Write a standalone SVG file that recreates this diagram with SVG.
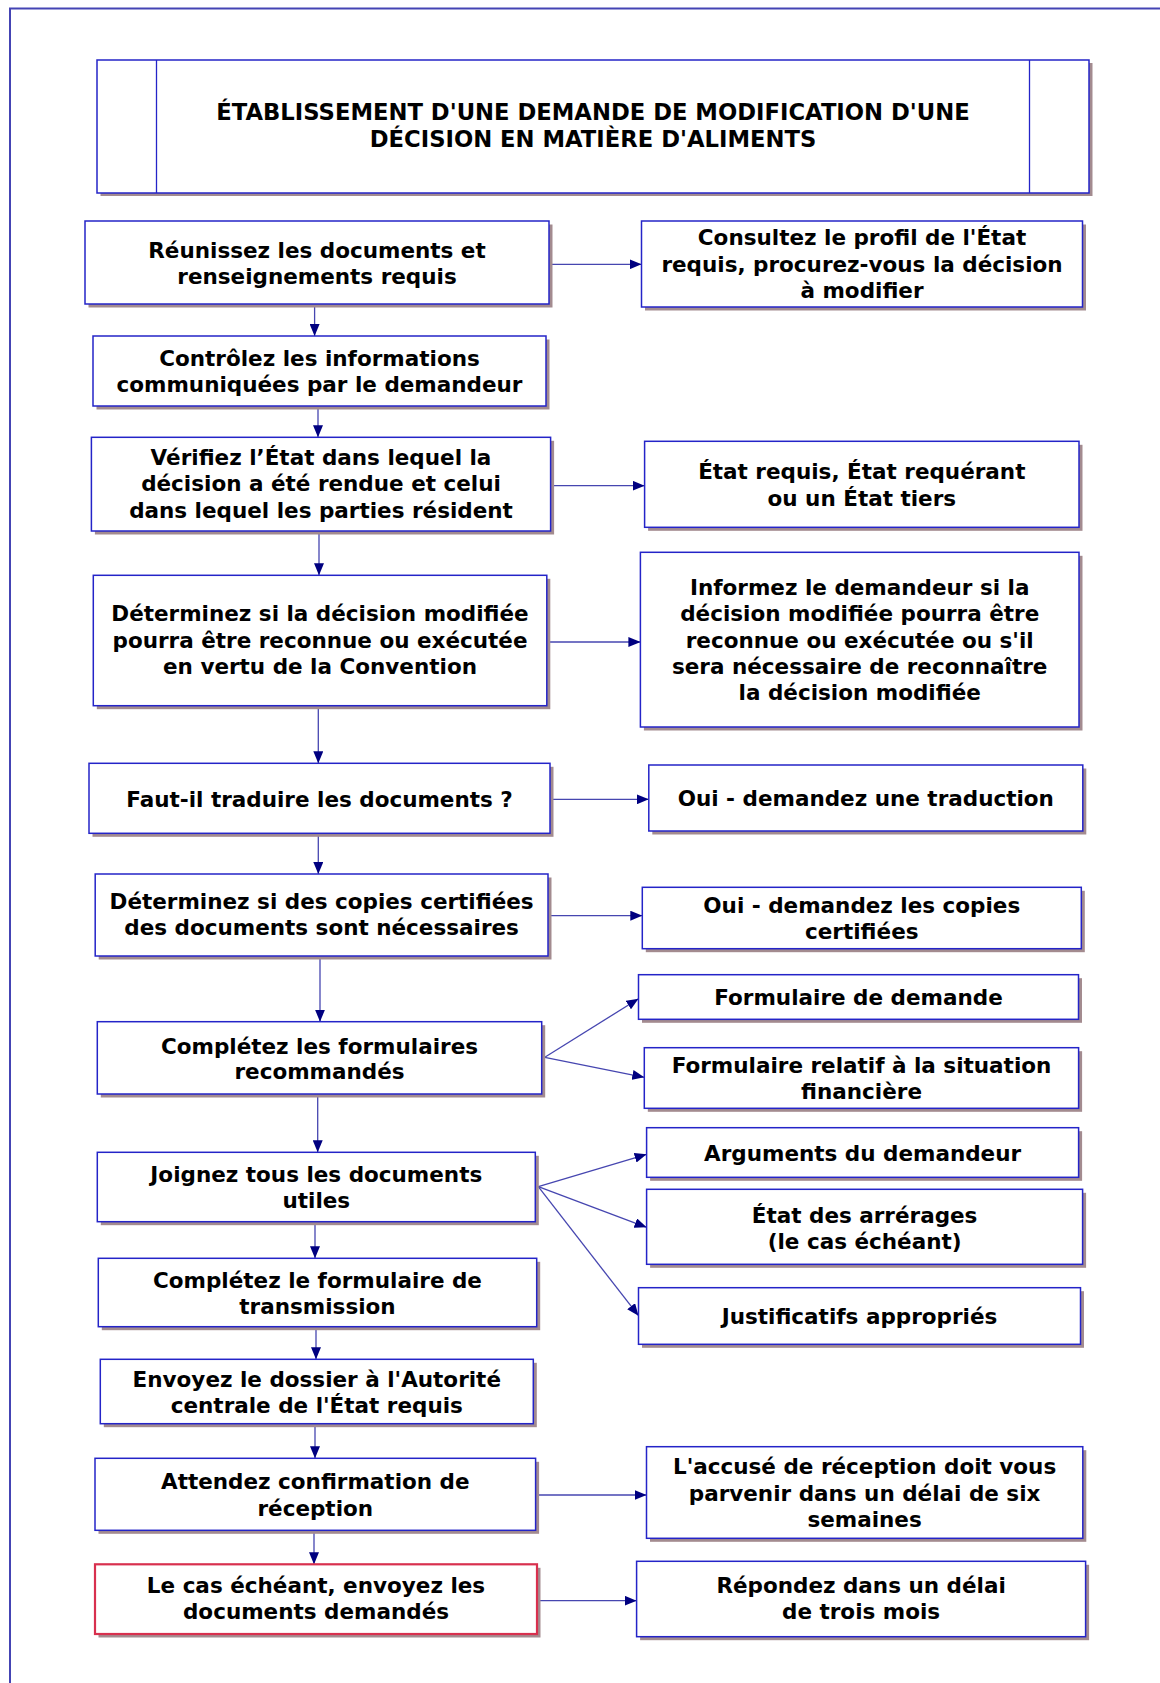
<svg xmlns="http://www.w3.org/2000/svg" width="1160" height="1683" viewBox="0 0 1160 1683">
  <style>
    .box { fill: #ffffff; stroke: #2424c8; stroke-width: 1.5; }
    .alert { fill: #ffffff; stroke: #d8304e; stroke-width: 2.2; }
    .sh { fill: #a38b8f; }
    .t { font-family: "DejaVu Sans", Verdana, sans-serif; font-weight: bold; font-size: 21.5px; text-anchor: middle; fill: #000000; }
    .h { font-size: 22.7px; }
    .c { stroke: #4646b0; stroke-width: 1.3; fill: none; marker-end: url(#ah); }
  </style>
  <defs>
    <marker id="ah" viewBox="0 0 12 10" refX="12" refY="5" markerWidth="12" markerHeight="10" markerUnits="userSpaceOnUse" orient="auto">
      <path d="M0,0 L12,5 L0,10 z" fill="#000080"/>
    </marker>
  </defs>

  <rect width="1160" height="1683" fill="#ffffff"/>
  <!-- page frame -->
  <rect x="10" y="8.5" width="1200" height="1700" fill="none" stroke="#4444b4" stroke-width="2"/>

  <!-- title -->
  <g id="title">
    <rect class="sh" x="100.5" y="63" width="992" height="133"/>
    <rect class="box" x="97" y="60" width="992" height="133"/>
    <line x1="156.5" y1="60" x2="156.5" y2="193" stroke="#2424c8" stroke-width="1.3"/>
    <line x1="1029.5" y1="60" x2="1029.5" y2="193" stroke="#2424c8" stroke-width="1.3"/>
    <text class="t h" x="593" y="120.3">ÉTABLISSEMENT D'UNE DEMANDE DE MODIFICATION D'UNE</text>
    <text class="t h" x="593" y="146.7">DÉCISION EN MATIÈRE D'ALIMENTS</text>
  </g>

  <!-- connectors -->
  <g id="connectors">
    <path class="c" d="M549,264.3 H641.5"/>
    <path class="c" d="M314.6,304 V336"/>
    <path class="c" d="M318,406 V437.3"/>
    <path class="c" d="M550.6,485.7 H644.6"/>
    <path class="c" d="M319,531 V575.3"/>
    <path class="c" d="M546.8,642 H640.4"/>
    <path class="c" d="M318.3,705.7 V763.3"/>
    <path class="c" d="M550,799.3 H648.8"/>
    <path class="c" d="M318.3,833.3 V874"/>
    <path class="c" d="M548,915.7 H642.3"/>
    <path class="c" d="M320,956 V1021.7"/>
    <path class="c" d="M544.8,1057.3 L638.5,998.7"/>
    <path class="c" d="M544.8,1057.3 L644.3,1077.3"/>
    <path class="c" d="M317.7,1094 V1152.3"/>
    <path class="c" d="M538.3,1186.7 L646.6,1154.3"/>
    <path class="c" d="M538.3,1186.7 L646.6,1227.3"/>
    <path class="c" d="M538.3,1186.7 L638.5,1315.7"/>
    <path class="c" d="M315,1221.7 V1258.3"/>
    <path class="c" d="M316,1326.7 V1359.3"/>
    <path class="c" d="M315,1423.7 V1458.3"/>
    <path class="c" d="M535.6,1495 H646.5"/>
    <path class="c" d="M314,1530.3 V1564.3"/>
    <path class="c" d="M537,1600.7 H636.6"/>
  </g>

  <g id="n1">
    <rect class="sh" x="88.5" y="224.5" width="464" height="83"/>
    <rect class="box" x="85" y="221" width="464" height="83"/>
    <text class="t" x="317" y="257.7">Réunissez les documents et</text>
    <text class="t" x="317" y="284.3">renseignements requis</text>
  </g>
  <g id="n2">
    <rect class="sh" x="645" y="224.5" width="441" height="86"/>
    <rect class="box" x="641.5" y="221" width="441" height="86"/>
    <text class="t" x="862" y="245">Consultez le profil de l'État</text>
    <text class="t" x="862" y="271.7">requis, procurez-vous la décision</text>
    <text class="t" x="862" y="297.7">à modifier</text>
  </g>
  <g id="n3">
    <rect class="sh" x="96.5" y="339.5" width="453" height="70"/>
    <rect class="box" x="93" y="336" width="453" height="70"/>
    <text class="t" x="319.5" y="365.7">Contrôlez les informations</text>
    <text class="t" x="319.5" y="392">communiquées par le demandeur</text>
  </g>
  <g id="n4">
    <rect class="sh" x="94.9" y="440.8" width="459.2" height="93.7"/>
    <rect class="box" x="91.4" y="437.3" width="459.2" height="93.7"/>
    <text class="t" x="321" y="465">Vérifiez l’État dans lequel la</text>
    <text class="t" x="321" y="491">décision a été rendue et celui</text>
    <text class="t" x="321" y="517.7">dans lequel les parties résident</text>
  </g>
  <g id="n5">
    <rect class="sh" x="648.1" y="444.8" width="434.4" height="86"/>
    <rect class="box" x="644.6" y="441.3" width="434.4" height="86"/>
    <text class="t" x="861.8" y="479.3">État requis, État requérant</text>
    <text class="t" x="861.8" y="505.7">ou un État tiers</text>
  </g>
  <g id="n6">
    <rect class="sh" x="96.8" y="578.8" width="453.5" height="130.4"/>
    <rect class="box" x="93.3" y="575.3" width="453.5" height="130.4"/>
    <text class="t" x="320" y="621">Déterminez si la décision modifiée</text>
    <text class="t" x="320" y="647.7">pourra être reconnue ou exécutée</text>
    <text class="t" x="320" y="674.3">en vertu de la Convention</text>
  </g>
  <g id="n7">
    <rect class="sh" x="643.9" y="555.8" width="438.6" height="174.7"/>
    <rect class="box" x="640.4" y="552.3" width="438.6" height="174.7"/>
    <text class="t" x="859.7" y="595">Informez le demandeur si la</text>
    <text class="t" x="859.7" y="621">décision modifiée pourra être</text>
    <text class="t" x="859.7" y="647.7">reconnue ou exécutée ou s'il</text>
    <text class="t" x="859.7" y="674">sera nécessaire de reconnaître</text>
    <text class="t" x="859.7" y="700">la décision modifiée</text>
  </g>
  <g id="n8">
    <rect class="sh" x="92.5" y="766.8" width="461" height="70"/>
    <rect class="box" x="89" y="763.3" width="461" height="70"/>
    <text class="t" x="319.5" y="807.3">Faut-il traduire les documents ?</text>
  </g>
  <g id="n9">
    <rect class="sh" x="652.3" y="768.5" width="434" height="66"/>
    <rect class="box" x="648.8" y="765" width="434" height="66"/>
    <text class="t" x="865.8" y="806">Oui - demandez une traduction</text>
  </g>
  <g id="n10">
    <rect class="sh" x="98.7" y="877.5" width="452.8" height="82"/>
    <rect class="box" x="95.2" y="874" width="452.8" height="82"/>
    <text class="t" x="321.6" y="909.3">Déterminez si des copies certifiées</text>
    <text class="t" x="321.6" y="935">des documents sont nécessaires</text>
  </g>
  <g id="n11">
    <rect class="sh" x="645.8" y="890.8" width="439" height="61.4"/>
    <rect class="box" x="642.3" y="887.3" width="439" height="61.4"/>
    <text class="t" x="861.8" y="912.7">Oui - demandez les copies</text>
    <text class="t" x="861.8" y="939">certifiées</text>
  </g>
  <g id="n12">
    <rect class="sh" x="100.8" y="1025.2" width="444.4" height="72.3"/>
    <rect class="box" x="97.3" y="1021.7" width="444.4" height="72.3"/>
    <text class="t" x="319.5" y="1053.7">Complétez les formulaires</text>
    <text class="t" x="319.5" y="1079.3">recommandés</text>
  </g>
  <g id="n13">
    <rect class="sh" x="642" y="978.2" width="440" height="44.6"/>
    <rect class="box" x="638.5" y="974.7" width="440" height="44.6"/>
    <text class="t" x="858.5" y="1005">Formulaire de demande</text>
  </g>
  <g id="n14">
    <rect class="sh" x="647.8" y="1051.2" width="434.3" height="60.6"/>
    <rect class="box" x="644.3" y="1047.7" width="434.3" height="60.6"/>
    <text class="t" x="861.5" y="1073.3">Formulaire relatif à la situation</text>
    <text class="t" x="861.5" y="1099.3">financière</text>
  </g>
  <g id="n15">
    <rect class="sh" x="100.8" y="1155.8" width="438" height="69.4"/>
    <rect class="box" x="97.3" y="1152.3" width="438" height="69.4"/>
    <text class="t" x="316.3" y="1182.3">Joignez tous les documents</text>
    <text class="t" x="316.3" y="1208.3">utiles</text>
  </g>
  <g id="n16">
    <rect class="sh" x="650.1" y="1131.2" width="432" height="49.6"/>
    <rect class="box" x="646.6" y="1127.7" width="432" height="49.6"/>
    <text class="t" x="862.6" y="1160.7">Arguments du demandeur</text>
  </g>
  <g id="n17">
    <rect class="sh" x="650.1" y="1192.8" width="436" height="75"/>
    <rect class="box" x="646.6" y="1189.3" width="436" height="75"/>
    <text class="t" x="864.6" y="1222.7">État des arrérages</text>
    <text class="t" x="864.6" y="1249">(le cas échéant)</text>
  </g>
  <g id="n18">
    <rect class="sh" x="642" y="1291.2" width="442" height="56.6"/>
    <rect class="box" x="638.5" y="1287.7" width="442" height="56.6"/>
    <text class="t" x="859.5" y="1324">Justificatifs appropriés</text>
  </g>
  <g id="n19">
    <rect class="sh" x="101.8" y="1261.8" width="438.4" height="68.4"/>
    <rect class="box" x="98.3" y="1258.3" width="438.4" height="68.4"/>
    <text class="t" x="317.5" y="1288.3">Complétez le formulaire de</text>
    <text class="t" x="317.5" y="1314.3">transmission</text>
  </g>
  <g id="n20">
    <rect class="sh" x="103.8" y="1362.8" width="433" height="64.4"/>
    <rect class="box" x="100.3" y="1359.3" width="433" height="64.4"/>
    <text class="t" x="316.8" y="1386.7">Envoyez le dossier à l'Autorité</text>
    <text class="t" x="316.8" y="1412.7">centrale de l'État requis</text>
  </g>
  <g id="n21">
    <rect class="sh" x="98.5" y="1461.8" width="440.6" height="72"/>
    <rect class="box" x="95" y="1458.3" width="440.6" height="72"/>
    <text class="t" x="315.3" y="1489">Attendez confirmation de</text>
    <text class="t" x="315.3" y="1515.7">réception</text>
  </g>
  <g id="n22">
    <rect class="sh" x="650" y="1450.2" width="436.3" height="91.6"/>
    <rect class="box" x="646.5" y="1446.7" width="436.3" height="91.6"/>
    <text class="t" x="864.6" y="1474">L'accusé de réception doit vous</text>
    <text class="t" x="864.6" y="1500.7">parvenir dans un délai de six</text>
    <text class="t" x="864.6" y="1526.7">semaines</text>
  </g>
  <g id="n23">
    <rect class="sh" x="98.5" y="1567.8" width="442" height="69.7"/>
    <rect class="alert" x="95" y="1564.3" width="442" height="69.7"/>
    <text class="t" x="316" y="1593.3">Le cas échéant, envoyez les</text>
    <text class="t" x="316" y="1619.3">documents demandés</text>
  </g>
  <g id="n24">
    <rect class="sh" x="640.1" y="1564.8" width="449" height="75.4"/>
    <rect class="box" x="636.6" y="1561.3" width="449" height="75.4"/>
    <text class="t" x="861.1" y="1593.3">Répondez dans un délai</text>
    <text class="t" x="861.1" y="1619.3">de trois mois</text>
  </g>
</svg>
